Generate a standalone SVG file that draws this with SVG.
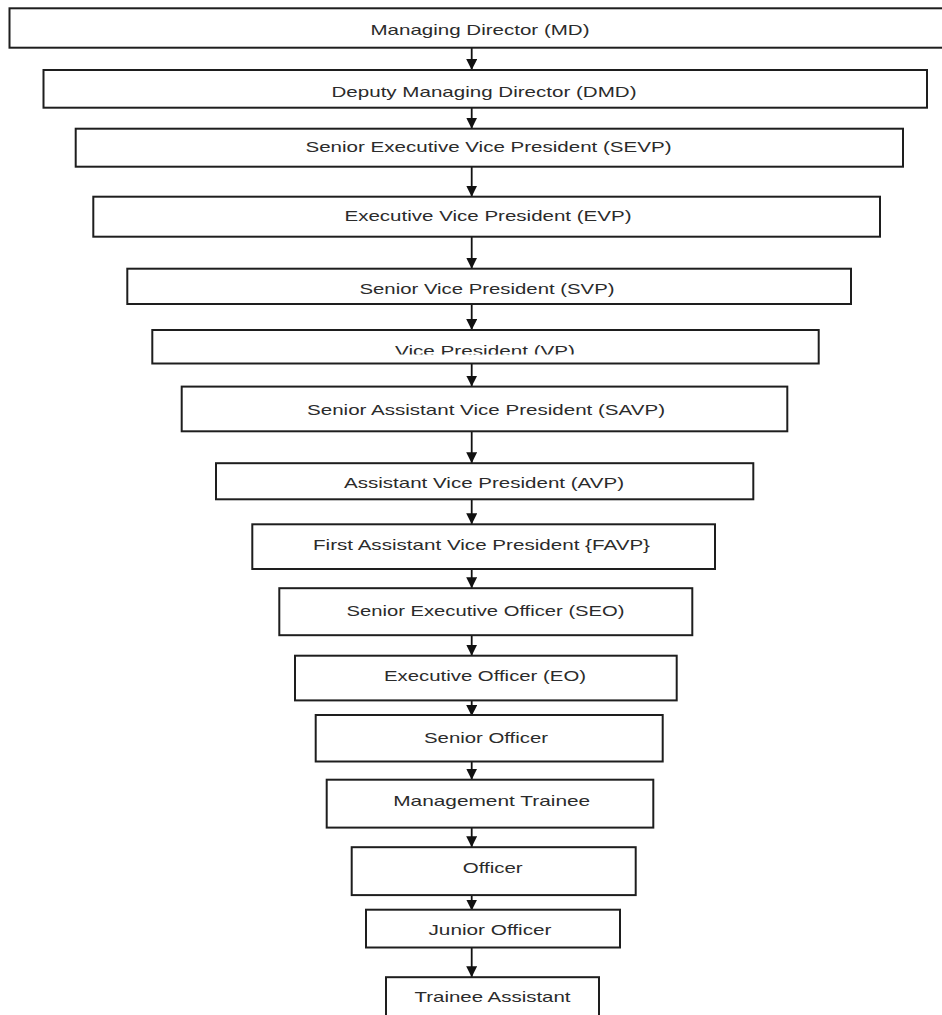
<svg xmlns="http://www.w3.org/2000/svg" width="942" height="1015" viewBox="0 0 942 1015">
<style>
.box{fill:#fff;stroke:#1e1e1e;stroke-width:2}
.lbl{font-family:"Liberation Sans",Arial,sans-serif;font-size:15px;fill:#2b2b2b;text-anchor:middle}
.con{stroke:#111;stroke-width:1.8;fill:none;marker-end:url(#arr)}
</style>
<defs>
<marker id="arr" markerUnits="userSpaceOnUse" markerWidth="11" markerHeight="11" refX="11" refY="5.5" orient="auto">
<path d="M0,0 L11,5.5 L0,11 z" fill="#111"/>
</marker>
<clipPath id="vpclip"><rect x="150" y="330" width="670" height="24.5"/></clipPath>
</defs>
<rect width="942" height="1015" fill="#fff"/>
<g id="connectors">
<line class="con" x1="471.7" y1="47.7" x2="471.7" y2="70"/>
<line class="con" x1="471.7" y1="107.7" x2="471.7" y2="128.7"/>
<line class="con" x1="471.7" y1="166.7" x2="471.7" y2="196.7"/>
<line class="con" x1="471.7" y1="236.7" x2="471.7" y2="268.7"/>
<line class="con" x1="471.7" y1="304" x2="471.7" y2="330"/>
<line class="con" x1="471.7" y1="363.5" x2="471.7" y2="386.6"/>
<line class="con" x1="471.7" y1="431.3" x2="471.7" y2="463.2"/>
<line class="con" x1="471.7" y1="499.3" x2="471.7" y2="524.3"/>
<line class="con" x1="471.7" y1="569" x2="471.7" y2="588.2"/>
<line class="con" x1="471.7" y1="635.2" x2="471.7" y2="655.7"/>
<line class="con" x1="471.7" y1="700.4" x2="471.7" y2="716"/>
<line class="con" x1="471.7" y1="761.5" x2="471.7" y2="779.7"/>
<line class="con" x1="471.7" y1="827.6" x2="471.7" y2="847.2"/>
<line class="con" x1="471.7" y1="895.1" x2="471.7" y2="910.5"/>
<line class="con" x1="471.7" y1="947.5" x2="471.7" y2="977.2"/>
</g>
<g id="n1"><rect class="box" x="9.5" y="8.3" width="945" height="39.4"/><text class="lbl" x="480" y="35" textLength="219" lengthAdjust="spacingAndGlyphs">Managing Director (MD)</text></g>
<g id="n2"><rect class="box" x="43.5" y="70" width="883.5" height="37.7"/><text class="lbl" x="484" y="97" textLength="305" lengthAdjust="spacingAndGlyphs">Deputy Managing Director (DMD)</text></g>
<g id="n3"><rect class="box" x="75.7" y="128.7" width="827.3" height="38"/><text class="lbl" x="488.5" y="152" textLength="366" lengthAdjust="spacingAndGlyphs">Senior Executive Vice President (SEVP)</text></g>
<g id="n4"><rect class="box" x="93.3" y="196.7" width="786.7" height="40"/><text class="lbl" x="488" y="221" textLength="287" lengthAdjust="spacingAndGlyphs">Executive Vice President (EVP)</text></g>
<g id="n5"><rect class="box" x="127.3" y="268.7" width="723.7" height="35.3"/><text class="lbl" x="487" y="294" textLength="255" lengthAdjust="spacingAndGlyphs">Senior Vice President (SVP)</text></g>
<g id="n6"><rect class="box" x="152.3" y="330" width="666.4" height="33.5"/><text class="lbl" x="485" y="356" textLength="180" lengthAdjust="spacingAndGlyphs" clip-path="url(#vpclip)">Vice President (VP)</text></g>
<g id="n7"><rect class="box" x="181.7" y="386.6" width="605.6" height="44.7"/><text class="lbl" x="486" y="415" textLength="358" lengthAdjust="spacingAndGlyphs">Senior Assistant Vice President (SAVP)</text></g>
<g id="n8"><rect class="box" x="216" y="463.2" width="537.3" height="36.1"/><text class="lbl" x="484" y="488" textLength="280" lengthAdjust="spacingAndGlyphs">Assistant Vice President (AVP)</text></g>
<g id="n9"><rect class="box" x="252.3" y="524.3" width="462.7" height="44.7"/><text class="lbl" x="481.5" y="550" textLength="337" lengthAdjust="spacingAndGlyphs">First Assistant Vice President {FAVP}</text></g>
<g id="n10"><rect class="box" x="279.3" y="588.2" width="413" height="47"/><text class="lbl" x="485.5" y="616" textLength="278" lengthAdjust="spacingAndGlyphs">Senior Executive Officer (SEO)</text></g>
<g id="n11"><rect class="box" x="295" y="655.7" width="381.7" height="44.7"/><text class="lbl" x="485" y="681" textLength="202" lengthAdjust="spacingAndGlyphs">Executive Officer (EO)</text></g>
<g id="n12"><rect class="box" x="315.7" y="715" width="347" height="46.5"/><text class="lbl" x="486" y="743" textLength="124" lengthAdjust="spacingAndGlyphs">Senior Officer</text></g>
<g id="n13"><rect class="box" x="326.7" y="779.7" width="326.6" height="47.9"/><text class="lbl" x="491.7" y="806" textLength="197" lengthAdjust="spacingAndGlyphs">Management Trainee</text></g>
<g id="n14"><rect class="box" x="351.7" y="847.2" width="284" height="47.9"/><text class="lbl" x="492.7" y="872.5" textLength="60" lengthAdjust="spacingAndGlyphs">Officer</text></g>
<g id="n15"><rect class="box" x="366" y="909.7" width="254" height="37.8"/><text class="lbl" x="490" y="934.5" textLength="123" lengthAdjust="spacingAndGlyphs">Junior Officer</text></g>
<g id="n16"><rect class="box" x="386" y="977.2" width="213" height="45"/><text class="lbl" x="492.5" y="1002" textLength="156" lengthAdjust="spacingAndGlyphs">Trainee Assistant</text></g>
</svg>
